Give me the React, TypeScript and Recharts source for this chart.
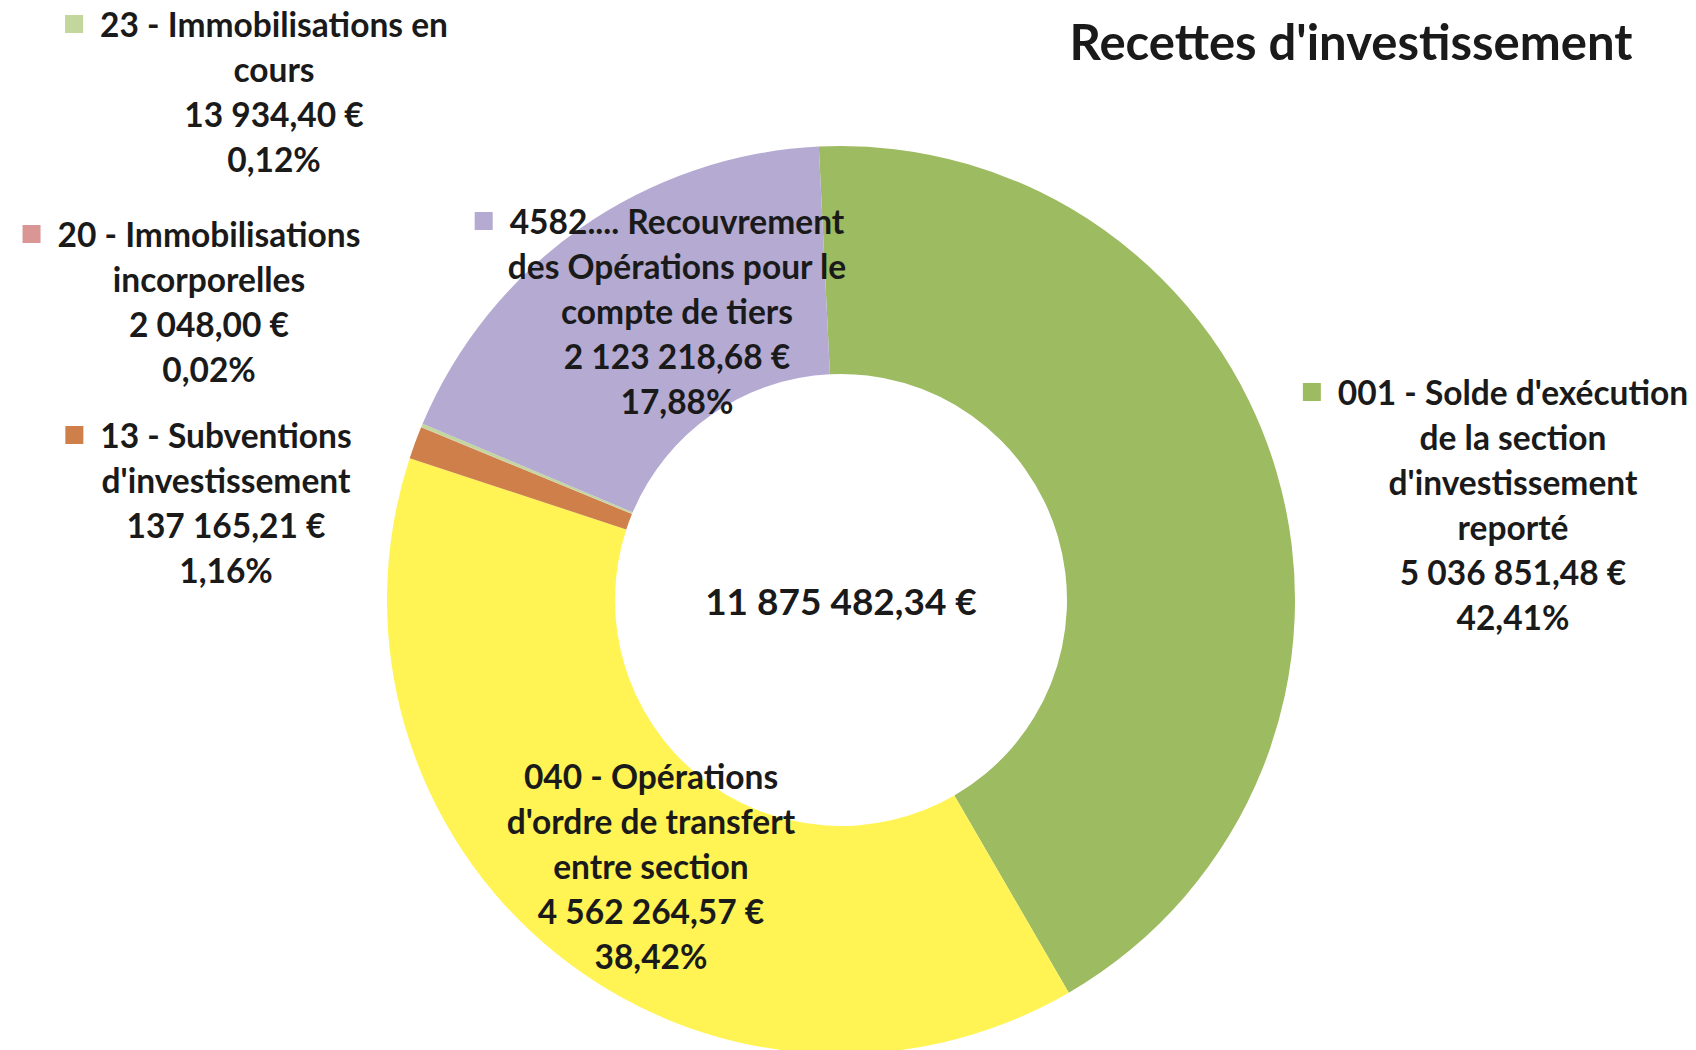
import { PieChart, Pie, Cell } from "recharts";

const CATEGORIES = [
  "001 - Solde d'exécution de la section d'investissement reporté",
  "040 - Opérations d'ordre de transfert entre section",
  "13 - Subventions d'investissement",
  "20 - Immobilisations incorporelles",
  "23 - Immobilisations en cours",
  "4582.... Recouvrement des Opérations pour le compte de tiers",
];
// how the names wrap in the picture
const NAME_LINES = [
  ["001 - Solde d'exécution", "de la section", "d'investissement", "reporté"],
  ["040 - Opérations", "d'ordre de transfert", "entre section"],
  ["13 - Subventions", "d'investissement"],
  ["20 - Immobilisations", "incorporelles"],
  ["23 - Immobilisations en", "cours"],
  ["4582.... Recouvrement", "des Opérations pour le", "compte de tiers"],
];
const VALUES = [5036851.48, 4562264.57, 137165.21, 2048.0, 13934.4, 2123218.68];
const SHOW_KEY = [true, false, true, true, true, true];

const COLORS = ["#9dbb61", "#fff453", "#cf7f4a", "#d99694", "#c3d69b", "#b4aad2"];

// label anchor: centre x of the text block, centre y of its first line
const LABEL_POS = [
  { x: 1513, y: 392 },
  { x: 651, y: 776 },
  { x: 226, y: 435 },
  { x: 209, y: 234 },
  { x: 274, y: 24 },
  { x: 677, y: 221 },
];

const FONT = "Lato, 'Open Sans', sans-serif";
const LABEL_SIZE = 33.5;
const LINE_H = 45;
const TEXT_COLOR = "#1a1a1a";

const TOTAL = VALUES.reduce((a, b) => a + b, 0);

function fmtEuro(n: number): string {
  const [int, dec] = n.toFixed(2).split(".");
  return int.replace(/\B(?=(\d{3})+(?!\d))/g, " ") + "," + dec + " €";
}

function fmtPct(p: number): string {
  return (p * 100).toFixed(2).replace(".", ",") + "%";
}

let ctx: CanvasRenderingContext2D | null = null;
function textWidth(s: string, size: number): number {
  if (!ctx) ctx = document.createElement("canvas").getContext("2d");
  if (!ctx) return s.length * size * 0.5;
  ctx.font = `bold ${size}px Lato`;
  return ctx.measureText(s).width;
}

// eslint-disable-next-line @typescript-eslint/no-explicit-any
function renderLabel(props: any) {
  const { index = 0 } = props;
  const pos = LABEL_POS[index];
  const lines = [
    ...NAME_LINES[index],
    fmtEuro(VALUES[index]),
    fmtPct(VALUES[index] / TOTAL),
  ];
  const w0 = textWidth(lines[0], LABEL_SIZE);
  const key = 18;
  return (
    <g key={`lbl-${index}`}>
      {SHOW_KEY[index] && (
        <rect
          x={pos.x - w0 / 2 - 17 - key}
          y={pos.y - key / 2}
          width={key}
          height={key}
          fill={COLORS[index]}
        />
      )}
      {lines.map((l, i) => (
        <text
          key={i}
          x={pos.x}
          y={pos.y + i * LINE_H}
          textAnchor="middle"
          dominantBaseline="central"
          fontFamily={FONT}
          fontWeight={700}
          fontSize={LABEL_SIZE}
          fill={TEXT_COLOR}
        >
          {l}
        </text>
      ))}
    </g>
  );
}

export default function App() {
  const data = CATEGORIES.map((name, i) => ({ name, value: VALUES[i] }));
  return (
    <div
      style={{
        position: "absolute",
        left: 0,
        top: 0,
        width: 1696,
        height: 1050,
        background: "#ffffff",
        overflow: "hidden",
      }}
    >
      <PieChart
        width={1696}
        height={1050}
        margin={{ top: 0, right: 0, bottom: 0, left: 0 }}
      >
        <text
          x={1351}
          y={60}
          textAnchor="middle"
          fontFamily={FONT}
          fontWeight={700}
          fontSize={49}
          fill={TEXT_COLOR}
        >
          Recettes d'investissement
        </text>
        <Pie
          data={data}
          dataKey="value"
          nameKey="name"
          cx={841}
          cy={600}
          innerRadius={226}
          outerRadius={454}
          startAngle={92.8}
          endAngle={-267.2}
          stroke="none"
          label={renderLabel}
          labelLine={false}
          isAnimationActive={false}
        >
          {data.map((_, i) => (
            <Cell key={i} fill={COLORS[i]} />
          ))}
        </Pie>
        <text
          x={841}
          y={600}
          textAnchor="middle"
          dominantBaseline="central"
          fontFamily={FONT}
          fontWeight={700}
          fontSize={37}
          fill={TEXT_COLOR}
        >
          {fmtEuro(TOTAL)}
        </text>
      </PieChart>
    </div>
  );
}
